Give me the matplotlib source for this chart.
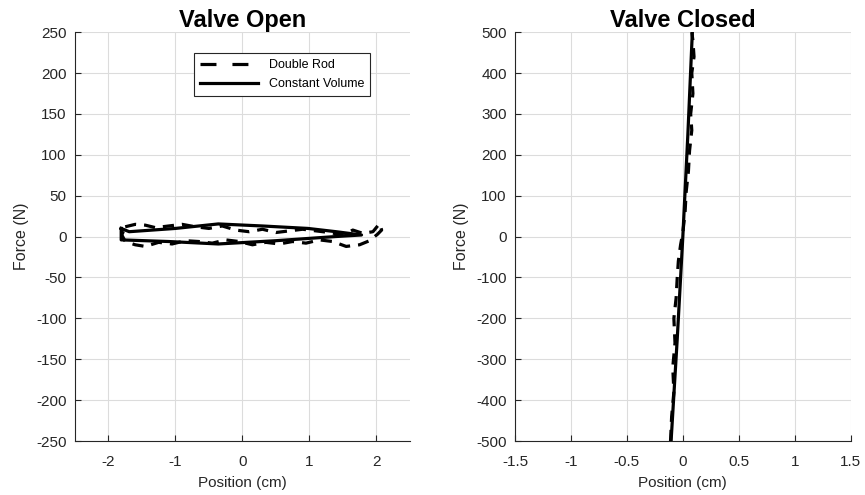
import matplotlib
matplotlib.use('Agg')
import matplotlib.pyplot as plt
from matplotlib.lines import Line2D

plt.rcParams['font.family'] = ['Liberation Sans', 'DejaVu Sans']
plt.rcParams['axes.unicode_minus'] = False

# valve open loops (position cm, force N)
open_dr_x = [-1.75, -1.6, -1.45, -1.3, -1.1, -0.9, -0.7, -0.5, -0.3, -0.1, 0.1, 0.3,
             0.5, 0.7, 0.9, 1.1, 1.3, 1.5, 1.65, 1.8, 1.95, 2.05, 2.08, 2.02,
             1.9, 1.75, 1.55, 1.35, 1.15, 0.95, 0.75, 0.55, 0.35, 0.15, -0.05,
             -0.25, -0.45, -0.65, -0.85, -1.05, -1.25, -1.45, -1.6, -1.75, -1.8, -1.75]
open_dr_y = [12, 15, 14, 11, 13, 15, 12, 10, 13, 8, 6, 9,
             5, 7, 9, 7, 5, 2, 8, 4, 6, 16, 8, 3,
             -5, -10, -12, -6, -4, -8, -6, -9, -7, -10, -6,
             -4, -8, -6, -5, -9, -7, -12, -10, -6, 2, 12]
open_cv_x = [-1.81, -1.69, -1.0, -0.36, 0.3, 0.98, 1.4, 1.78, 1.38, 0.5, -0.36, -1.1, -1.81, -1.81]
open_cv_y = [10, 6, 10, 15.5, 13, 10, 6, 2, 0, -5, -9, -6, -4, 10]

# valve closed
closed_dr_x = [-0.11, -0.1, -0.08, -0.09, -0.07, -0.08, -0.06, -0.05, -0.04, -0.03, -0.02,
               0.0, 0.02, 0.03, 0.05, 0.06, 0.08, 0.07, 0.09, 0.08, 0.1, 0.09, 0.08]
closed_dr_y = [-500, -440, -380, -320, -260, -200, -150, -100, -60, -40, -20,
               10, 60, 110, 160, 210, 260, 300, 350, 400, 440, 480, 500]
closed_cv_x = [-0.105, -0.05, 0.0, 0.045, 0.085]
closed_cv_y = [-500, -250, 0, 250, 500]

fig = plt.figure(figsize=(8.65, 4.95), dpi=100)
ax1 = fig.add_axes([0.0867, 0.109, 0.387, 0.826])
ax2 = fig.add_axes([0.5954, 0.109, 0.388, 0.826])

dash = (0, (3.5, 2.5))
ax1.plot(open_dr_x, open_dr_y, color='black', lw=2.3, linestyle=dash)
ax1.plot(open_cv_x, open_cv_y, color='black', lw=2.3)
ax2.plot(closed_dr_x, closed_dr_y, color='black', lw=2.3, linestyle=dash)
ax2.plot(closed_cv_x, closed_cv_y, color='black', lw=2.3)

ax1.set_xlim(-2.5, 2.5)
ax1.set_ylim(-250, 250)
ax1.set_xticks([-2, -1, 0, 1, 2])
ax1.set_yticks(range(-250, 251, 50))
ax2.set_xlim(-1.5, 1.5)
ax2.set_ylim(-500, 500)
ax2.set_xticks([-1.5, -1, -0.5, 0, 0.5, 1, 1.5])
ax2.set_xticklabels(['-1.5', '-1', '-0.5', '0', '0.5', '1', '1.5'])
ax2.set_yticks(range(-500, 501, 100))

for ax, title in [(ax1, 'Valve Open'), (ax2, 'Valve Closed')]:
    ax.set_title(title, fontsize=17, fontweight='bold', pad=3)
    ax.set_xlabel('Position (cm)', fontsize=11, color='#262626', labelpad=5)
    ax.set_ylabel('Force (N)', fontsize=11.5, color='#262626', labelpad=5)
    ax.grid(True, color='#dcdcdc', lw=0.8)
    ax.set_axisbelow(True)
    ax.spines['top'].set_visible(False)
    ax.spines['right'].set_visible(False)
    ax.spines['left'].set_color('#262626')
    ax.spines['bottom'].set_color('#262626')
    ax.tick_params(direction='in', length=4, labelsize=11, colors='#262626', width=0.8)
    ax.tick_params(axis='x', pad=10)
    ax.tick_params(axis='y', pad=6)

handles = [Line2D([], [], color='black', lw=2.3, linestyle=(0, (5, 5))),
           Line2D([], [], color='black', lw=2.3)]
leg = ax1.legend(handles, ['Double Rod', 'Constant Volume'], loc='upper left',
                 bbox_to_anchor=(0.355, 0.949), fontsize=9, fancybox=False,
                 framealpha=1, edgecolor='#262626', handlelength=4.6,
                 borderpad=0.5, labelspacing=0.55, handletextpad=0.9, borderaxespad=0)
leg.get_frame().set_linewidth(0.8)

fig.savefig('out.png', dpi=100)
